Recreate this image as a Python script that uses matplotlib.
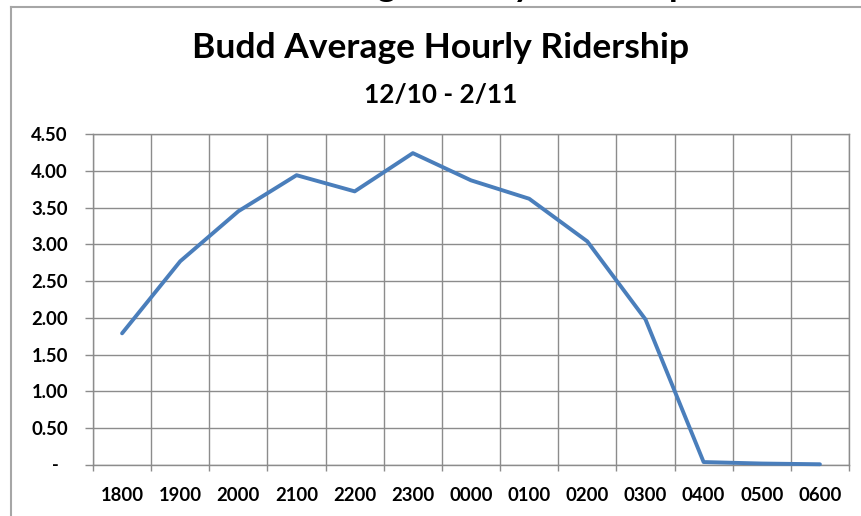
import matplotlib
matplotlib.use('Agg')
import matplotlib.pyplot as plt
from matplotlib.lines import Line2D

# ---- data ----
hours = ['1800', '1900', '2000', '2100', '2200', '2300', '0000',
         '0100', '0200', '0300', '0400', '0500', '0600']
riders = [1.79, 2.77, 3.45, 3.94, 3.72, 4.24, 3.87,
          3.62, 3.04, 1.98, 0.04, 0.02, 0.01]
y_ticks = [0.0, 0.5, 1.0, 1.5, 2.0, 2.5, 3.0, 3.5, 4.0, 4.5]
y_labels = ['-', '0.50', '1.00', '1.50', '2.00', '2.50', '3.00', '3.50', '4.00', '4.50']
title = 'Budd Average Hourly Ridership'
subtitle = '12/10 - 2/11'

W, H = 861, 516
FAM = 'Lato'
GRID = '#8c8c8c'
LINE = '#4a7ebb'

fig = plt.figure(figsize=(W / 100, H / 100), dpi=100)
fig.patch.set_facecolor('white')
renderer = fig.canvas.get_renderer()


def fit(s, target_px, weight='bold'):
    t = fig.text(0, 0, s, fontsize=20, weight=weight, family=FAM)
    w = t.get_window_extent(renderer).width
    t.remove()
    return 20 * target_px / w


fs_title = fit(title, 497)
fs_sub = fit(subtitle, 153)
fs_tick = fit('1800', 43)

# outer chart frame (partially cropped)
fig.add_artist(Line2D([11 / W, 11 / W], [0, 1 - 7 / H], transform=fig.transFigure,
                      color='#a6a6a6', lw=1.5))
fig.add_artist(Line2D([11 / W, 1], [1 - 7 / H, 1 - 7 / H], transform=fig.transFigure,
                      color='#a6a6a6', lw=1.5))

# cropped text of a title above the frame (only descenders visible)
fig.text(441 / W, 1 + 4 / H, title, ha='center', va='baseline',
         fontsize=fs_title, weight='bold', family=FAM, color='black')

fig.text(441 / W, 1 - 48 / H, title, ha='center', va='center',
         fontsize=fs_title, weight='bold', family=FAM)
fig.text(441 / W, 1 - 95 / H, subtitle, ha='center', va='center',
         fontsize=fs_sub, weight='bold', family=FAM)

ax = fig.add_axes([93 / W, 1 - 465 / H, (849 - 93) / W, (465 - 134) / H])
x = list(range(len(hours)))
ax.plot(x, riders, color=LINE, lw=2.8, solid_joinstyle='round',
        solid_capstyle='round', zorder=3, clip_on=False)

ax.set_xlim(-0.5, len(hours) - 0.5)
ax.set_ylim(0, 4.5)

ax.set_xticks([i - 0.5 for i in range(len(hours) + 1)])
ax.set_xticklabels([])
ax.set_xticks(x, minor=True)
ax.set_xticklabels(hours, minor=True, fontsize=fs_tick, weight='bold', family=FAM)
ax.tick_params(axis='x', which='minor', length=0, pad=16)
ax.tick_params(axis='x', which='major', length=4, width=1, color=GRID, direction='out')

ax.set_yticks(y_ticks)
ax.set_yticklabels([lab if v != 0 else '' for v, lab in zip(y_ticks, y_labels)],
                   fontsize=fs_tick, weight='bold', family=FAM)
ax.tick_params(axis='y', length=6, width=1, color=GRID, pad=12)
ax.text(-0.05, 0, y_labels[0], transform=ax.get_yaxis_transform(),
        ha='center', va='center', fontsize=fs_tick, weight='bold', family=FAM)

ax.grid(True, axis='x', which='major', color=GRID, lw=1)
ax.grid(True, axis='y', color=GRID, lw=1)
ax.set_axisbelow(True)
for sp in ax.spines.values():
    sp.set_color(GRID)
    sp.set_linewidth(1)

fig.savefig('out.png', dpi=100, facecolor='white')
